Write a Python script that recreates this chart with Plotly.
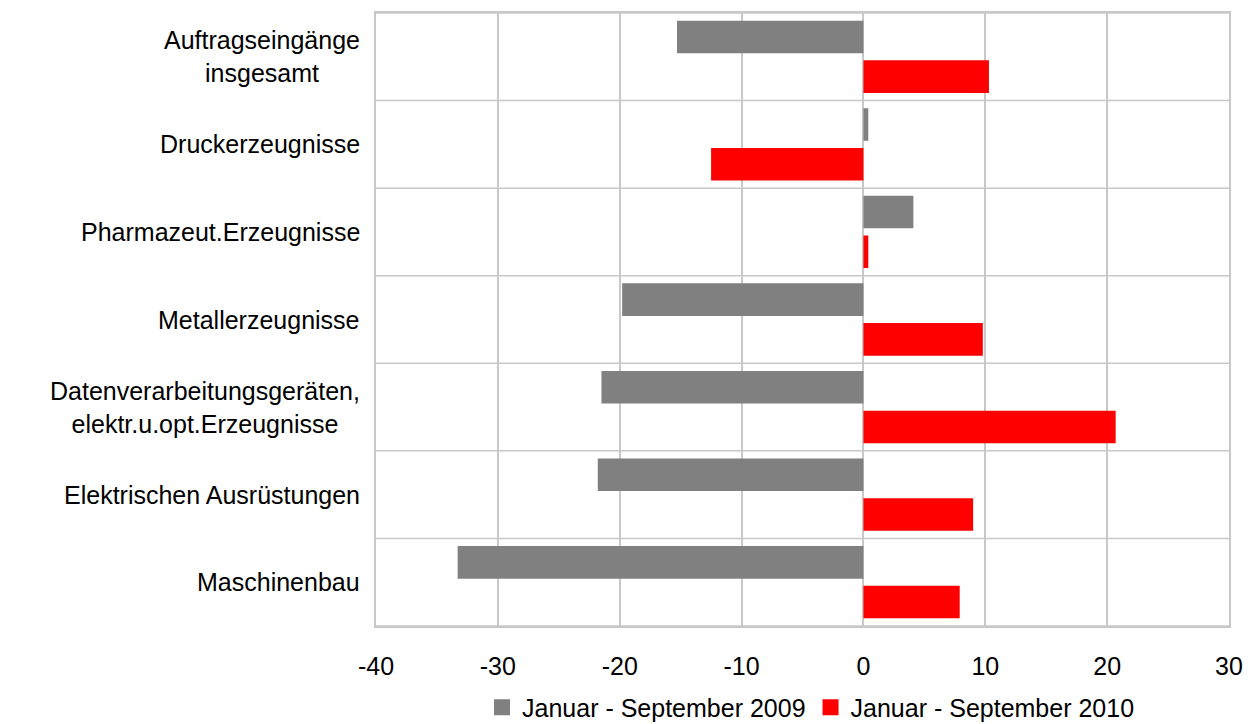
import plotly.graph_objects as go

categories = [
    "Auftragseingänge<br>insgesamt",
    "Druckerzeugnisse",
    "Pharmazeut.Erzeugnisse",
    "Metallerzeugnisse",
    "Datenverarbeitungsgeräten,<br>elektr.u.opt.Erzeugnisse",
    "Elektrischen Ausrüstungen",
    "Maschinenbau",
]
series_names = ["Januar - September 2009", "Januar - September 2010"]
values_2009 = [-15.3, 0.4, 4.1, -19.8, -21.5, -21.8, -33.3]
values_2010 = [10.3, -12.5, 0.4, 9.8, 20.7, 9.0, 7.9]
x_ticks = [-40, -30, -20, -10, 0, 10, 20, 30]

colors = ["#808080", "#ff0000"]
FONT = "Liberation Sans, Arial, sans-serif"
GRID = "#c8c8c8"
FS = 25

fig = go.Figure()
for name, vals, col in zip(series_names, [values_2009, values_2010], colors):
    fig.add_trace(go.Bar(
        y=categories, x=vals, orientation="h", name=name,
        marker=dict(color=col, line=dict(width=0)), showlegend=False,
    ))
    fig.add_trace(go.Scatter(
        x=[None], y=[None], mode="markers", name=name,
        marker=dict(symbol="square", size=20, color=col),
        showlegend=True,
    ))

# category boundary lines
for i in range(len(categories) + 1):
    fig.add_shape(type="line", xref="paper", yref="y", x0=0, x1=1,
                  y0=i - 0.5, y1=i - 0.5, line=dict(color=GRID, width=1.5),
                  layer="below")

# y labels (centered multi-line)
for c in categories:
    fig.add_annotation(x=0, xref="paper", y=c, yref="y", text=c,
                       xanchor="right", xshift=-14, align="center",
                       showarrow=False, font=dict(family=FONT, size=FS, color="#000"))

fig.update_layout(
    width=1255, height=724,
    margin=dict(l=376, r=26, t=13, b=98, autoexpand=False),
    paper_bgcolor="white", plot_bgcolor="white",
    barmode="group", bargap=0.093, bargroupgap=0.18,
    font=dict(family=FONT, size=FS, color="#000"),
    legend=dict(orientation="h", x=0.51, xanchor="center", y=-0.133, yanchor="middle",
                font=dict(family=FONT, size=FS, color="#000"),
                itemsizing="trace", itemwidth=30, tracegroupgap=0),
    xaxis=dict(range=[-40, 30], tickvals=x_ticks, ticktext=[str(v) for v in x_ticks],
               showgrid=True, gridcolor=GRID, gridwidth=1.5,
               zeroline=True, zerolinecolor=GRID, zerolinewidth=1.5,
               showline=True, linecolor=GRID, linewidth=1.5, mirror=True,
               ticks="", ticklabelstandoff=17,
               tickfont=dict(family=FONT, size=FS, color="#000")),
    yaxis=dict(type="category", categoryorder="array", categoryarray=categories,
               range=[len(categories) - 0.5, -0.5], showgrid=False, zeroline=False,
               showticklabels=False, ticks="",
               showline=True, linecolor=GRID, linewidth=1.5, mirror=True),
)

fig.write_html("out.html", config={"displayModeBar": False},
               post_script="document.body.style.margin='0';document.body.style.overflow='hidden';")
